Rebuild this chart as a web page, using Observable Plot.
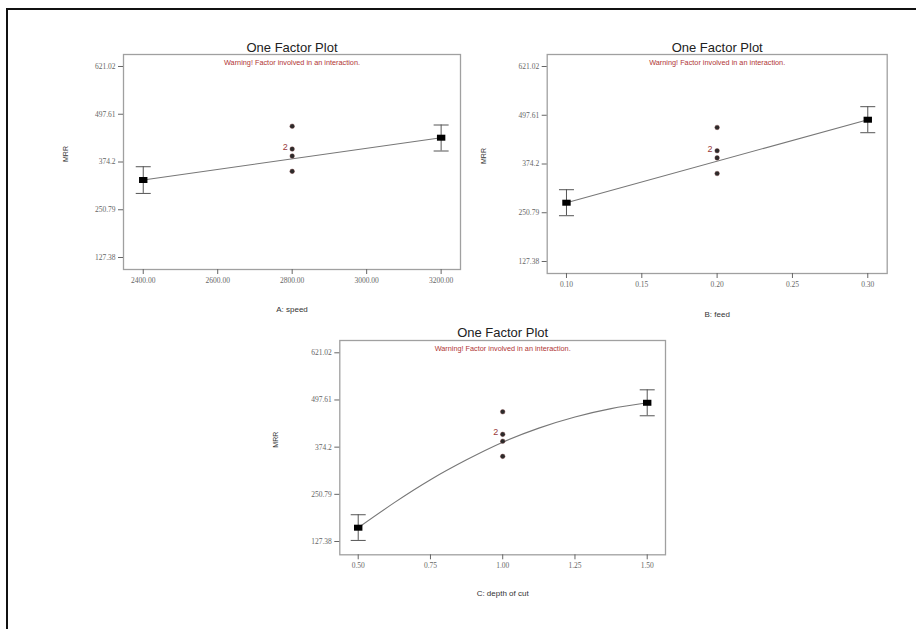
<!DOCTYPE html>
<html>
<head>
<meta charset="utf-8">
<script src="https://cdn.jsdelivr.net/npm/d3@7"></script>
<script src="https://cdn.jsdelivr.net/npm/@observablehq/plot@0.6"></script>
<style>
  html, body { margin: 0; padding: 0; background: #fff; }
  #page { position: relative; width: 916px; height: 629px; overflow: hidden; background: #fff; }
  #border { position: absolute; left: 6px; top: 8px; width: 2000px; height: 2000px; border: 2px solid #111; box-sizing: border-box; }
  .panel { position: absolute; }
</style>
</head>
<body>
<div id="page"><div id="border"></div></div>
<script>
// ---- Data ----
const yTicks = [127.38, 250.79, 374.2, 497.61, 621.02];

// center-point runs (shared by all three factors)
const centerMRR = [466.7, 407.7, 389.7, 350.1];
const centerCountLabel = "2"; // label beside the doubled run
const centerLabelIndex = 1;

// A: speed
const speedTicks = [2400, 2600, 2800, 3000, 3200];
const speedLevels = [2400, 3200];
const speedMeans = [327.7, 437.0];
const speedLow = [293.0, 402.6];
const speedHigh = [362.0, 469.8];
const speedCenter = 2800;

// B: feed
const feedTicks = [0.10, 0.15, 0.20, 0.25, 0.30];
const feedLevels = [0.10, 0.30];
const feedMeans = [276.2, 486.3];
const feedLow = [243.3, 453.4];
const feedHigh = [309.1, 519.3];
const feedCenter = 0.20;

// C: depth of cut
const docTicks = [0.50, 0.75, 1.00, 1.25, 1.50];
const docLevels = [0.5, 1.5];
const docMeans = [163.5, 490.3];
const docLow = [130.2, 456.3];
const docHigh = [197.4, 524.2];
const docCenter = 1.0;
// fitted curve
const docCurveX = [0.5, 0.625, 0.75, 0.875, 1.0, 1.125, 1.25, 1.375, 1.5];
const docCurveY = [163.5, 229, 289, 341, 387, 424, 453, 475, 490.3];

const titleText = "One Factor Plot";
const warningText = "Warning! Factor involved in an interaction.";
const yLabel = "MRR";

// ---- helpers ----
const capSymbol = { draw(ctx) { ctx.moveTo(-7.5, 0); ctx.lineTo(7.5, 0); } };
const meanSymbol = { draw(ctx) { ctx.moveTo(-4.2, -3); ctx.lineTo(4.2, -3); ctx.lineTo(4.2, 3); ctx.lineTo(-4.2, 3); ctx.closePath(); } };

function panel(cfg) {
  const means = cfg.levels.map((x, i) => ({x, y: cfg.means[i], lo: cfg.low[i], hi: cfg.high[i]}));
  const caps = means.flatMap(d => [{x: d.x, y: d.lo}, {x: d.x, y: d.hi}]);
  const centers = centerMRR.map(y => ({x: cfg.center, y}));
  const curve = cfg.curveX.map((x, i) => ({x, y: cfg.curveY[i]}));
  const sans = "'Liberation Sans', Arial, sans-serif";
  const plot = Plot.plot({
    width: cfg.width,
    height: cfg.height,
    marginTop: cfg.mt, marginBottom: cfg.mb, marginLeft: cfg.ml, marginRight: cfg.mr,
    style: {fontFamily: "'Liberation Serif', serif", fontSize: "7.5px", background: "transparent", overflow: "visible"},
    x: {domain: cfg.xDomain},
    y: {domain: cfg.yDomain},
    marks: [
      Plot.frame({stroke: "#a0a0a0", strokeWidth: 1.3}),
      Plot.axisX({ticks: cfg.ticks, tickFormat: d => d.toFixed(2), tickSize: 5, tickPadding: 3, label: null, color: "#666"}),
      Plot.axisY({ticks: yTicks, tickFormat: d => String(d), tickSize: 5, tickPadding: 3, label: null, color: "#666"}),
      Plot.line(curve, {x: "x", y: "y", stroke: "#777", strokeWidth: 1.1, curve: "natural"}),
      Plot.ruleX(means, {x: "x", y1: "lo", y2: "hi", stroke: "#555", strokeWidth: 1}),
      Plot.dot(caps, {x: "x", y: "y", symbol: capSymbol, stroke: "#555", strokeWidth: 1, r: 4}),
      Plot.dot(means, {x: "x", y: "y", symbol: meanSymbol, fill: "#000", stroke: "none", r: 4}),
      Plot.dot(centers, {x: "x", y: "y", r: 2.3, fill: "#2b2b2b", stroke: "#7a3a3a", strokeWidth: 0.4}),
      Plot.text([centers[centerLabelIndex]], {x: "x", y: "y", text: () => centerCountLabel, dx: -7, dy: -2, fill: "#9a3a3a", fontSize: 9, fontFamily: sans}),
      Plot.text([titleText], {text: d => d, frameAnchor: "top", lineAnchor: "middle", dy: cfg.titleDy, fontSize: 13, fill: "#222", fontFamily: sans}),
      Plot.text([warningText], {text: d => d, frameAnchor: "top", lineAnchor: "middle", dy: cfg.warnDy, fontSize: 7.3, fill: "#b03535", fontFamily: sans}),
      Plot.text([cfg.xLabel], {text: d => d, frameAnchor: "bottom", lineAnchor: "middle", dy: cfg.xLabelDy, fontSize: 8, fill: "#333", fontFamily: sans}),
      Plot.text([yLabel], {text: d => d, frameAnchor: "left", dx: cfg.yLabelDx, rotate: -90, fontSize: 7, fill: "#333", fontFamily: sans})
    ]
  });
  plot.classList.add("panel");
  plot.style.left = cfg.left + "px";
  plot.style.top = cfg.top + "px";
  document.getElementById("page").appendChild(plot);
}

panel({
  left: 60, top: 36, width: 420, height: 285, mt: 18, mb: 52, ml: 63, mr: 20,
  xDomain: [2347, 3252], yDomain: [96.4, 652],
  ticks: speedTicks, levels: speedLevels, means: speedMeans, low: speedLow, high: speedHigh,
  center: speedCenter, curveX: speedLevels, curveY: speedMeans,
  xLabel: "A: speed", titleDy: -7, warnDy: 8, xLabelDy: 40, yLabelDx: -58
});

panel({
  left: 480, top: 36, width: 436, height: 290, mt: 18, mb: 53, ml: 66.7, mr: 29.3,
  xDomain: [0.0872, 0.3129], yDomain: [97, 651.4],
  ticks: feedTicks, levels: feedLevels, means: feedMeans, low: feedLow, high: feedHigh,
  center: feedCenter, curveX: feedLevels, curveY: feedMeans,
  xLabel: "B: feed", titleDy: -7, warnDy: 8, xLabelDy: 41, yLabelDx: -63
});

panel({
  left: 260, top: 322, width: 440, height: 288, mt: 18, mb: 55.7, ml: 79.3, mr: 35,
  xDomain: [0.4363, 1.5633], yDomain: [92.6, 653.2],
  ticks: docTicks, levels: docLevels, means: docMeans, low: docLow, high: docHigh,
  center: docCenter, curveX: docCurveX, curveY: docCurveY,
  xLabel: "C: depth of cut", titleDy: -8, warnDy: 8, xLabelDy: 39, yLabelDx: -64
});
</script>
</body>
</html>
